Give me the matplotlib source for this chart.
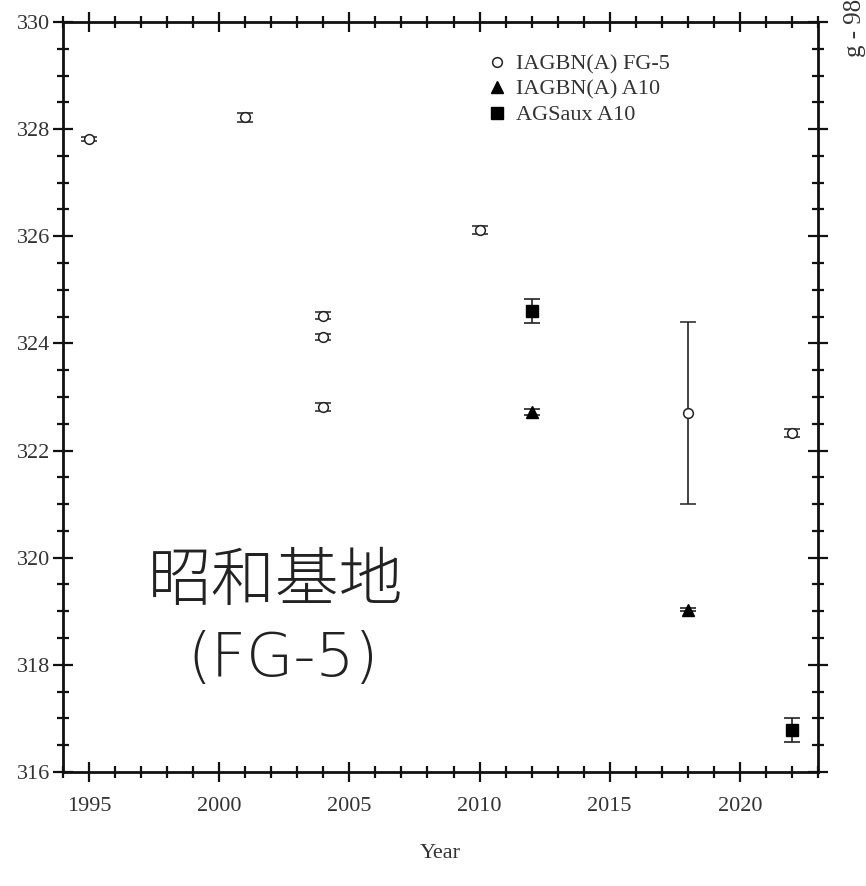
import matplotlib
matplotlib.use("Agg")
import matplotlib.pyplot as plt
from matplotlib.ticker import MultipleLocator

# FG-5 (IAGBN(A)) open circles
fg5_year = [1995, 2001, 2004, 2004, 2004, 2010, 2018, 2022]
fg5_val = [327.82, 328.22, 324.52, 324.12, 322.81, 326.12, 322.70, 322.33]
fg5_err = [0.04, 0.08, 0.06, 0.06, 0.08, 0.08, 1.70, 0.07]

# IAGBN(A) A10 triangles
a10_year = [2012, 2018]
a10_val = [322.72, 319.03]
a10_err = [0.05, 0.03]

# AGSaux A10 squares
ags_year = [2012, 2022]
ags_val = [324.60, 316.78]
ags_err = [0.22, 0.22]

plt.rcParams['font.family'] = ['Liberation Serif', 'DejaVu Serif']

fig = plt.figure(figsize=(8.66, 8.86), dpi=100)
ax = fig.add_axes([0.0727, 0.1287, 0.8719, 0.8465])

ek = dict(ecolor='#222222', elinewidth=1.2, capsize=6, capthick=1.2, linestyle='none')
ax.errorbar(fg5_year, fg5_val, yerr=fg5_err, fmt='o', mfc='white', mec='#222222',
            ms=7, mew=1.1, label='IAGBN(A) FG-5', **ek)
ax.errorbar(a10_year, a10_val, yerr=a10_err, fmt='^', color='black',
            ms=8, label='IAGBN(A) A10', **ek)
ax.errorbar(ags_year, ags_val, yerr=ags_err, fmt='s', color='black',
            ms=8, label='AGSaux A10', **ek)

ax.set_xlim(1994, 2023)
ax.set_ylim(316, 330)
ax.xaxis.set_major_locator(MultipleLocator(5))
ax.xaxis.set_minor_locator(MultipleLocator(1))
ax.yaxis.set_major_locator(MultipleLocator(2))
ax.yaxis.set_minor_locator(MultipleLocator(0.5))
ax.tick_params(which='both', direction='inout', top=True, right=True,
               labeltop=False, labelright=False, color='#111111')
ax.tick_params(which='major', length=14, width=1.6, labelsize=16,
               labelcolor='#333333')
ax.tick_params(axis='x', which='major', pad=11)
ax.tick_params(axis='y', which='major', pad=2)
ax.tick_params(which='minor', length=9, width=1.6)
for s in ax.spines.values():
    s.set_linewidth(2.0)
    s.set_color('#111111')

ax.set_xlabel('Year', fontsize=16, color='#333333', labelpad=20)

h, l = ax.get_legend_handles_labels()
h = [hh[0] for hh in h]
leg = ax.legend(h, l, loc='upper left', bbox_to_anchor=(0.537, 0.984), frameon=False,
                fontsize=16, handlelength=0.8, handletextpad=0.45, labelspacing=0.22,
                labelcolor='#333333')

fig.text(0.988, 0.936, 'g - 982000 (μGal)', rotation=90, ha='center', va='bottom',
         fontsize=18, color='#333333')

ax.text(0.282, 0.252, '昭和基地', transform=ax.transAxes, ha='center',
        va='center', fontsize=46, color='#222222',
        family=['Noto Sans CJK JP', 'DejaVu Sans'], fontweight='light')
ax.text(0.291, 0.150, '(FG-5)', transform=ax.transAxes, ha='center',
        va='center', fontsize=44, color='#222222',
        family=['DejaVu Sans'], fontweight='light')

fig.savefig('out.png', dpi=100)
